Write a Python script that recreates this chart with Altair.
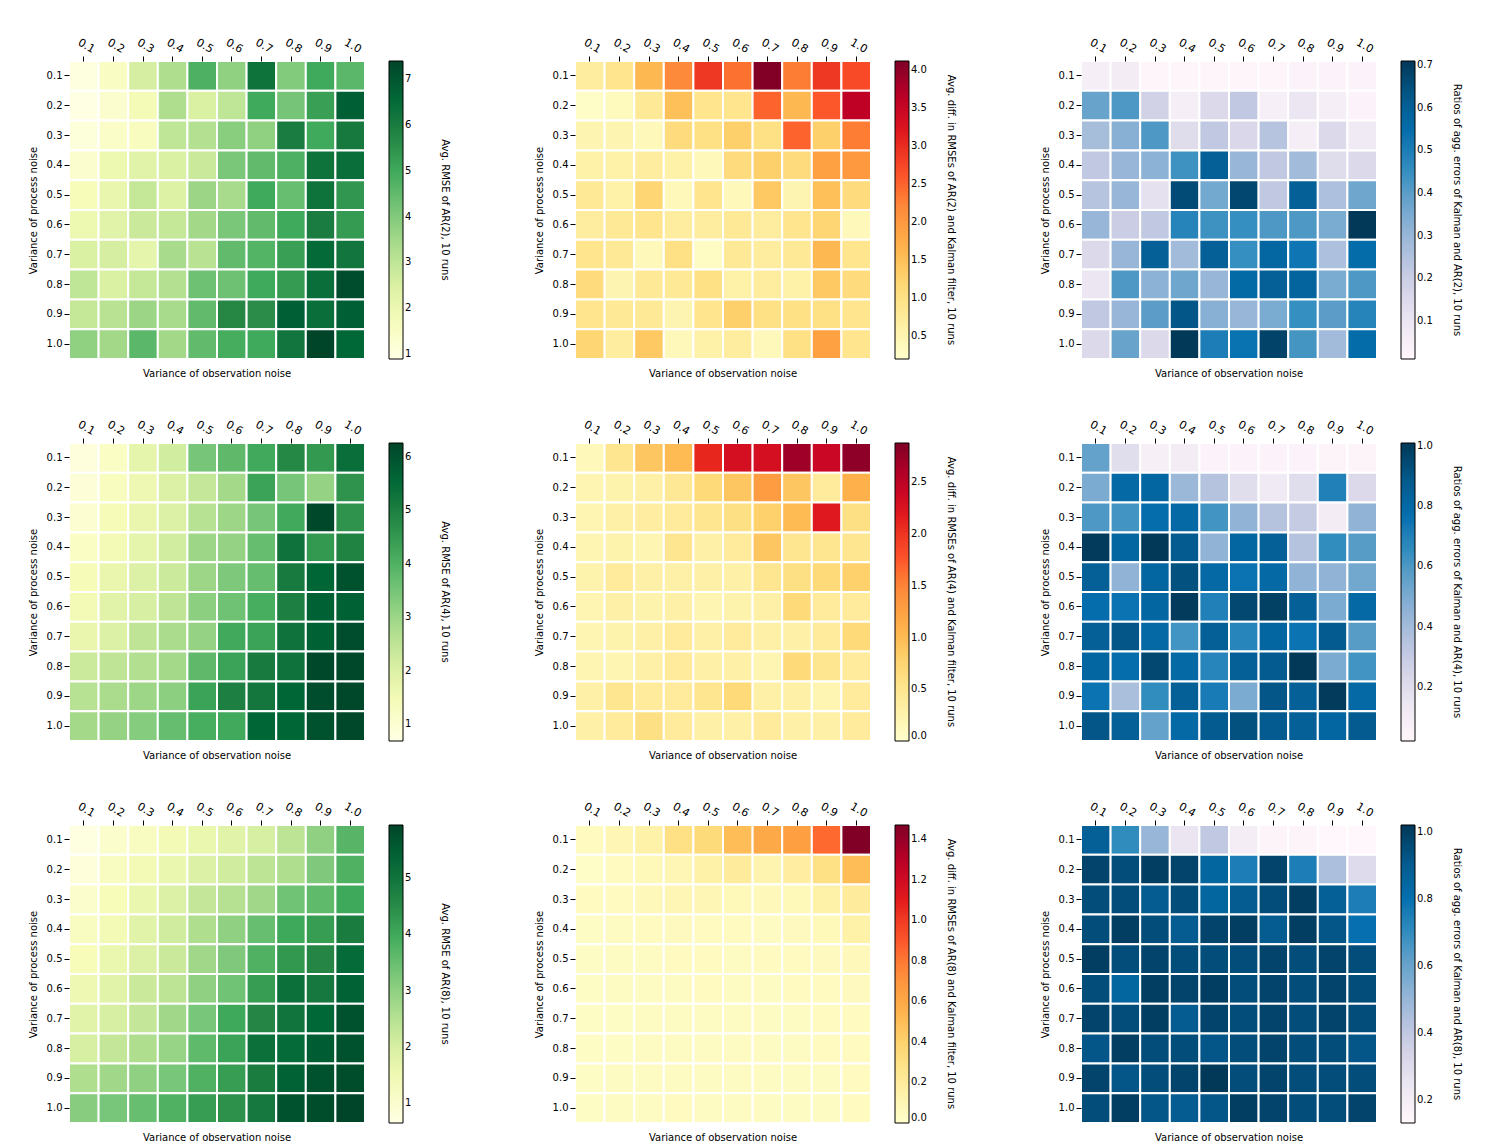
import altair as alt
import pandas as pd

noise = ["0.1", "0.2", "0.3", "0.4", "0.5", "0.6", "0.7", "0.8", "0.9", "1.0"]

# rows = process noise (0.1 .. 1.0), columns = observation noise (0.1 .. 1.0)
rmse_ar2 = [
    [1.0, 1.5, 2.6, 3.3, 4.8, 3.8, 6.3, 4.0, 5.0, 4.6],
    [0.9, 1.3, 1.8, 3.3, 2.5, 3.0, 5.0, 4.2, 5.2, 6.8],
    [1.1, 1.4, 1.6, 3.0, 3.2, 3.9, 3.8, 6.0, 5.0, 6.1],
    [1.3, 2.0, 2.3, 2.5, 2.8, 4.1, 4.5, 4.8, 6.3, 6.4],
    [1.7, 2.1, 2.9, 2.4, 3.6, 3.4, 5.0, 4.4, 6.3, 5.4],
    [2.0, 2.3, 2.8, 2.9, 3.5, 4.1, 4.5, 5.0, 6.0, 5.3],
    [2.5, 2.6, 2.2, 3.4, 3.1, 4.5, 4.7, 5.2, 6.5, 6.2],
    [3.0, 2.5, 2.9, 3.2, 4.3, 4.3, 5.0, 5.3, 6.4, 7.2],
    [2.9, 3.1, 3.6, 3.4, 4.5, 5.7, 5.6, 6.8, 6.4, 6.8],
    [3.8, 3.5, 4.6, 3.5, 4.5, 4.9, 5.0, 6.2, 7.4, 6.6],
]
diff_ar2 = [
    [0.7, 0.9, 1.6, 2.2, 2.9, 2.4, 4.1, 2.3, 2.9, 2.7],
    [0.25, 0.35, 0.8, 1.5, 0.9, 0.9, 2.5, 1.6, 2.6, 3.6],
    [0.5, 0.5, 0.4, 1.1, 1.0, 1.3, 1.0, 2.5, 1.3, 2.3],
    [0.6, 0.6, 0.7, 0.6, 0.4, 1.1, 1.3, 1.1, 1.9, 2.0],
    [0.8, 0.6, 1.2, 0.4, 0.9, 0.4, 1.4, 0.5, 1.5, 1.1],
    [0.7, 0.8, 0.9, 0.7, 0.7, 0.8, 0.7, 0.9, 1.2, 0.4],
    [0.9, 0.8, 0.4, 1.0, 0.3, 0.8, 0.7, 0.8, 1.6, 0.9],
    [1.1, 0.5, 0.8, 0.8, 1.0, 0.6, 0.7, 0.6, 1.4, 1.1],
    [0.9, 0.8, 0.8, 0.5, 0.9, 1.3, 1.0, 1.0, 1.0, 0.9],
    [1.2, 0.7, 1.4, 0.4, 0.6, 0.7, 0.4, 1.0, 1.9, 0.9],
]
ratio_ar2 = [
    [0.06, 0.07, 0.02, 0.02, 0.02, 0.02, 0.02, 0.03, 0.03, 0.03],
    [0.38, 0.42, 0.18, 0.06, 0.15, 0.22, 0.05, 0.10, 0.06, 0.03],
    [0.27, 0.33, 0.42, 0.14, 0.22, 0.16, 0.24, 0.06, 0.15, 0.08],
    [0.22, 0.30, 0.32, 0.44, 0.60, 0.30, 0.22, 0.28, 0.14, 0.15],
    [0.24, 0.30, 0.12, 0.66, 0.36, 0.67, 0.22, 0.60, 0.26, 0.37],
    [0.30, 0.20, 0.22, 0.48, 0.44, 0.45, 0.42, 0.42, 0.35, 0.71],
    [0.15, 0.30, 0.60, 0.28, 0.60, 0.45, 0.57, 0.52, 0.26, 0.55],
    [0.10, 0.42, 0.32, 0.37, 0.30, 0.56, 0.60, 0.58, 0.35, 0.42],
    [0.22, 0.30, 0.40, 0.63, 0.33, 0.30, 0.35, 0.45, 0.40, 0.48],
    [0.15, 0.38, 0.15, 0.71, 0.50, 0.53, 0.68, 0.43, 0.28, 0.55],
]
rmse_ar4 = [
    [0.8, 1.2, 1.8, 2.2, 3.5, 3.8, 4.2, 4.8, 4.5, 5.4],
    [0.9, 1.3, 1.6, 2.0, 2.4, 2.9, 4.3, 3.5, 3.1, 4.6],
    [1.0, 1.4, 1.7, 2.0, 2.6, 3.0, 3.5, 4.2, 6.2, 4.6],
    [1.2, 1.5, 1.8, 2.2, 3.0, 3.1, 3.7, 5.3, 4.5, 4.9],
    [1.4, 1.7, 2.0, 2.3, 3.0, 3.4, 3.7, 5.1, 5.6, 6.0],
    [1.5, 1.9, 2.1, 2.5, 3.2, 3.6, 4.1, 5.0, 5.7, 5.7],
    [1.7, 2.0, 2.5, 2.8, 3.1, 4.2, 4.3, 5.3, 5.7, 6.1],
    [2.3, 2.5, 2.7, 2.9, 3.8, 4.3, 5.1, 5.3, 6.2, 6.2],
    [2.6, 2.8, 3.0, 3.2, 4.3, 5.0, 5.2, 5.6, 6.1, 6.2],
    [2.9, 3.1, 3.3, 3.7, 4.1, 4.2, 5.6, 5.6, 6.0, 6.2],
]
diff_ar4 = [
    [0.15, 0.5, 0.9, 1.0, 2.1, 2.3, 2.3, 2.7, 2.4, 2.8],
    [0.2, 0.25, 0.3, 0.45, 0.7, 0.9, 1.3, 0.9, 0.4, 1.1],
    [0.2, 0.3, 0.35, 0.4, 0.5, 0.6, 0.8, 1.0, 2.2, 0.6],
    [0.2, 0.25, 0.2, 0.5, 0.3, 0.4, 0.9, 0.5, 0.5, 0.5],
    [0.25, 0.4, 0.3, 0.3, 0.3, 0.3, 0.5, 0.6, 0.7, 0.8],
    [0.2, 0.3, 0.25, 0.3, 0.2, 0.25, 0.3, 0.7, 0.4, 0.4],
    [0.2, 0.25, 0.3, 0.4, 0.3, 0.4, 0.3, 0.3, 0.4, 0.7],
    [0.2, 0.2, 0.3, 0.4, 0.3, 0.3, 0.2, 0.7, 0.5, 0.4],
    [0.3, 0.5, 0.4, 0.4, 0.5, 0.7, 0.3, 0.3, 0.2, 0.4],
    [0.3, 0.4, 0.6, 0.4, 0.3, 0.3, 0.4, 0.3, 0.3, 0.4],
]
ratio_ar4 = [
    [0.55, 0.2, 0.08, 0.1, 0.05, 0.05, 0.05, 0.05, 0.04, 0.04],
    [0.5, 0.8, 0.82, 0.42, 0.35, 0.2, 0.12, 0.2, 0.7, 0.22],
    [0.6, 0.62, 0.78, 0.8, 0.62, 0.45, 0.35, 0.3, 0.1, 0.45],
    [1.0, 0.82, 1.01, 0.88, 0.45, 0.82, 0.85, 0.35, 0.65, 0.58],
    [0.85, 0.45, 0.82, 0.92, 0.8, 0.75, 0.8, 0.45, 0.45, 0.52],
    [0.78, 0.75, 0.82, 1.0, 0.7, 0.95, 0.98, 0.85, 0.5, 0.8],
    [0.85, 0.9, 0.8, 0.62, 0.85, 0.68, 0.82, 0.75, 0.88, 0.58],
    [0.82, 0.78, 0.95, 0.8, 0.68, 0.85, 0.88, 1.01, 0.5, 0.62],
    [0.75, 0.38, 0.65, 0.85, 0.72, 0.5, 0.9, 0.85, 1.0, 0.8],
    [0.9, 0.85, 0.55, 0.8, 0.88, 0.92, 0.88, 0.85, 0.82, 0.88],
]
rmse_ar8 = [
    [0.7, 1.0, 1.2, 1.4, 1.6, 1.8, 2.0, 2.4, 3.0, 3.7],
    [0.8, 1.2, 1.4, 1.6, 1.9, 2.1, 2.4, 2.6, 3.2, 3.8],
    [1.0, 1.3, 1.6, 1.9, 2.3, 2.5, 2.8, 3.4, 3.6, 4.0],
    [1.2, 1.4, 1.8, 2.1, 2.6, 3.0, 3.5, 4.0, 4.2, 4.8],
    [1.3, 1.6, 1.9, 2.2, 2.8, 3.2, 3.8, 4.3, 4.6, 5.2],
    [1.5, 1.8, 2.2, 2.4, 3.0, 3.4, 4.2, 5.1, 4.9, 5.4],
    [1.8, 2.0, 2.3, 2.8, 3.3, 4.0, 4.6, 5.0, 5.3, 5.7],
    [2.0, 2.3, 2.6, 2.9, 3.6, 4.1, 5.1, 5.2, 5.5, 5.7],
    [2.6, 2.8, 3.0, 3.3, 3.8, 4.2, 4.8, 5.4, 5.7, 5.8],
    [3.1, 3.3, 3.5, 3.8, 4.2, 4.4, 4.9, 5.7, 5.8, 5.95],
]
diff_ar8 = [
    [0.05, 0.1, 0.15, 0.3, 0.35, 0.5, 0.6, 0.65, 0.85, 1.47],
    [0.02, 0.05, 0.08, 0.1, 0.15, 0.2, 0.12, 0.18, 0.3, 0.5],
    [0.05, 0.05, 0.07, 0.1, 0.1, 0.08, 0.07, 0.08, 0.15, 0.2],
    [0.03, 0.04, 0.05, 0.06, 0.05, 0.05, 0.04, 0.06, 0.08, 0.15],
    [0.03, 0.04, 0.04, 0.05, 0.05, 0.04, 0.05, 0.05, 0.06, 0.07],
    [0.03, 0.04, 0.04, 0.04, 0.05, 0.04, 0.04, 0.05, 0.05, 0.06],
    [0.03, 0.03, 0.04, 0.04, 0.04, 0.04, 0.04, 0.04, 0.05, 0.05],
    [0.03, 0.03, 0.04, 0.04, 0.04, 0.04, 0.04, 0.04, 0.05, 0.05],
    [0.03, 0.04, 0.04, 0.04, 0.04, 0.04, 0.04, 0.04, 0.04, 0.05],
    [0.03, 0.04, 0.04, 0.05, 0.04, 0.04, 0.04, 0.04, 0.04, 0.05],
]
ratio_ar8 = [
    [0.88, 0.7, 0.5, 0.25, 0.4, 0.2, 0.15, 0.15, 0.12, 0.08],
    [0.98, 0.95, 1.0, 0.98, 0.85, 0.75, 0.98, 0.75, 0.45, 0.3],
    [0.95, 0.95, 0.9, 0.95, 0.85, 0.9, 0.95, 1.0, 0.88, 0.75],
    [0.95, 1.0, 0.95, 0.9, 0.98, 1.0, 0.9, 1.0, 0.92, 0.8],
    [1.0, 0.95, 0.98, 0.95, 0.95, 0.95, 0.98, 0.95, 0.98, 0.95],
    [0.95, 0.85, 1.0, 0.98, 1.0, 0.95, 0.98, 0.95, 0.98, 0.95],
    [0.98, 0.95, 1.0, 0.9, 0.98, 0.95, 0.98, 0.95, 0.98, 0.95],
    [0.92, 1.0, 0.95, 0.95, 0.92, 0.95, 0.98, 0.95, 0.95, 0.92],
    [0.98, 0.92, 0.95, 0.98, 1.02, 0.95, 0.98, 0.95, 0.95, 0.95],
    [0.95, 1.0, 0.92, 0.9, 0.92, 1.0, 0.98, 0.95, 0.95, 0.98],
]

# matplotlib colormaps (ColorBrewer stops)
YLGN = ["#ffffe5", "#f7fcb9", "#d9f0a3", "#addd8e", "#78c679",
        "#41ab5d", "#238443", "#006837", "#004529"]
YLORRD = ["#ffffcc", "#ffeda0", "#fed976", "#feb24c", "#fd8d3c",
          "#fc4e2a", "#e31a1c", "#bd0026", "#800026"]
PUBU = ["#fff7fb", "#ece7f2", "#d0d1e6", "#a6bddb", "#74a9cf",
        "#3690c0", "#0570b0", "#045a8d", "#023858"]

W, H = 296, 298
FONT = "DejaVu Sans"


def panel(values, cmap, lo, hi, ticks, fmt, title):
    df = pd.DataFrame([
        {"proc": noise[i], "obs": noise[j], "v": values[i][j]}
        for i in range(10) for j in range(10)
    ])
    n = len(cmap)
    dom = [lo + (hi - lo) * k / (n - 1) for k in range(n)]
    heat = alt.Chart(df).mark_rect(stroke="white", strokeWidth=2).encode(
        x=alt.X("obs:N", sort=noise, title=None,
                axis=alt.Axis(orient="top", labelAngle=30, labelAlign="center",
                              labelBaseline="bottom", labelFontSize=11,
                              domain=False, tickColor="black",
                              labelColor="black", labelPadding=6)),
        y=alt.Y("proc:N", sort=noise, title="Variance of process noise",
                axis=alt.Axis(domain=False, labelFontSize=10, titleFontSize=10,
                              titleFontWeight="normal", labelColor="black",
                              tickColor="black", titlePadding=8)),
        color=alt.Color("v:Q", scale=alt.Scale(domain=dom, range=cmap, clamp=True),
                        legend=alt.Legend(orient="none", legendX=W + 24, legendY=0,
                                          direction="vertical", gradientLength=H,
                                          gradientThickness=14, title=None,
                                          values=ticks, format=fmt, labelFontSize=10,
                                          labelColor="black",
                                          gradientStrokeColor="black",
                                          gradientStrokeWidth=1)),
    )
    xt = alt.Chart(pd.DataFrame({"t": ["Variance of observation noise"]})).mark_text(
        fontSize=10, font=FONT, baseline="top"
    ).encode(x=alt.value(W / 2), y=alt.value(H + 10), text="t:N")
    ct = alt.Chart(pd.DataFrame({"t": [title]})).mark_text(
        fontSize=10, font=FONT, angle=90
    ).encode(x=alt.value(W + 80), y=alt.value(H / 2), text="t:N")
    return alt.layer(heat, xt, ct).resolve_scale(color="independent").properties(
        width=W, height=H)


rows = [
    [panel(rmse_ar2, YLGN, 0.89, 7.4, [1, 2, 3, 4, 5, 6, 7], "d",
           "Avg. RMSE of AR(2), 10 runs"),
     panel(diff_ar2, YLORRD, 0.2, 4.12, [0.5, 1.0, 1.5, 2.0, 2.5, 3.0, 3.5, 4.0], ".1f",
           "Avg. diff. in RMSEs of AR(2) and Kalman filter, 10 runs"),
     panel(ratio_ar2, PUBU, 0.01, 0.71, [0.1, 0.2, 0.3, 0.4, 0.5, 0.6, 0.7], ".1f",
           "Ratios of agg. errors of Kalman and AR(2), 10 runs")],
    [panel(rmse_ar4, YLGN, 0.68, 6.26, [1, 2, 3, 4, 5, 6], "d",
           "Avg. RMSE of AR(4), 10 runs"),
     panel(diff_ar4, YLORRD, 0.0, 2.88, [0.0, 0.5, 1.0, 1.5, 2.0, 2.5], ".1f",
           "Avg. diff. in RMSEs of AR(4) and Kalman filter, 10 runs"),
     panel(ratio_ar4, PUBU, 0.02, 1.01, [0.2, 0.4, 0.6, 0.8, 1.0], ".1f",
           "Ratios of agg. errors of Kalman and AR(4), 10 runs")],
    [panel(rmse_ar8, YLGN, 0.64, 5.95, [1, 2, 3, 4, 5], "d",
           "Avg. RMSE of AR(8), 10 runs"),
     panel(diff_ar8, YLORRD, 0.0, 1.47, [0.0, 0.2, 0.4, 0.6, 0.8, 1.0, 1.2, 1.4], ".1f",
           "Avg. diff. in RMSEs of AR(8) and Kalman filter, 10 runs"),
     panel(ratio_ar8, PUBU, 0.13, 1.02, [0.2, 0.4, 0.6, 0.8, 1.0], ".1f",
           "Ratios of agg. errors of Kalman and AR(8), 10 runs")],
]

chart = alt.vconcat(
    *[alt.hconcat(*r, spacing=84).resolve_scale(color="independent") for r in rows],
    spacing=39,
).resolve_scale(color="independent").properties(
    padding={"left": 20, "top": 28, "right": 5, "bottom": 5}
).configure(
    font=FONT
).configure_view(stroke=None).configure_axis(grid=False)

chart.save("out.html", embed_options={"renderer": "svg", "actions": False})
